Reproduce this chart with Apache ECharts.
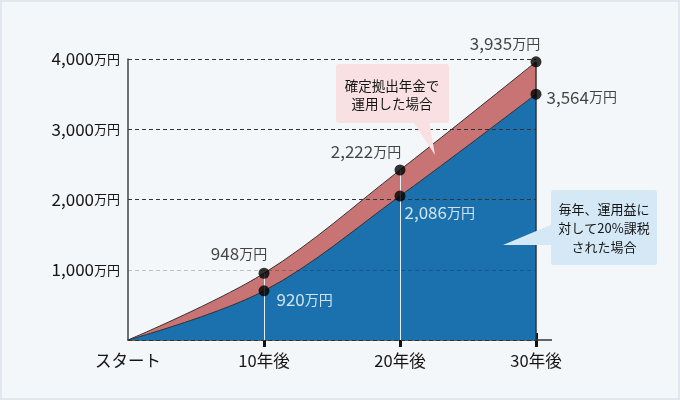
<!DOCTYPE html>
<html>
<head>
<meta charset="utf-8">
<script src="https://cdn.jsdelivr.net/npm/echarts@6/dist/echarts.min.js"></script>
<style>
  html, body { margin: 0; padding: 0; background: #f4f7fa; }
  #frame { width: 680px; height: 400px; box-sizing: border-box; border: 2px solid #e1e7ee; background: #f4f7fa; }
  #chart { width: 676px; height: 396px; }
</style>
</head>
<body>
<div id="frame"><div id="chart"></div></div>
<script>
// 確定拠出年金 vs 課税口座 — 30年の積立イメージ
var years = [0, 10, 20, 30];
var xLabels = ['スタート', '10年後', '20年後', '30年後'];
var yTicks = [0, 1000, 2000, 3000, 4000];
// heights as drawn in the picture (the original is a schematic, not to scale)
var dcHeights = [0, 950, 2420, 3960];
var taxedHeights = [0, 700, 2050, 3500];
// amounts printed next to the points (万円)
var dcLabels = ['', '948', '2,222', '3,935'];
var taxedLabels = ['', '920', '2,086', '3,564'];

(function() {
  var font = '"Noto Sans CJK JP", "Noto Sans", sans-serif';
  var ink = '#151515';
  var red = '#c97474';
  var blue = '#1b71ad';

  function pairs(vals) {
    return years.map(function(x, i) { return [x, vals[i]]; });
  }
  function pointData(vals) {
    return years.slice(1).map(function(x, i) { return [x, vals[i + 1]]; });
  }
  var richText = {
    n: { fontSize: 17, fontFamily: font },
    u: { fontSize: 14, fontFamily: font }
  };
  // label placement for the 10/20/30 points
  var dcPlace = [
    { position: 'top', offset: [-25, -1] },
    { position: 'top', offset: [-34, 1] },
    { position: 'top', offset: [-31, 1] }
  ];
  var taxedPlace = [
    { position: 'right', offset: [2, 9], color: '#fff' },
    { position: 'right', offset: [-6, 17], color: '#fff' },
    { position: 'right', offset: [0, 3], color: ink }
  ];
  function labelled(data, labels, place) {
    return data.map(function(d, i) {
      var p = place[i];
      return {
        value: d,
        label: {
          show: true, position: p.position, offset: p.offset,
          color: p.color || ink,
          formatter: '{n|' + labels[i + 1] + '}{u|万円}',
          rich: richText
        }
      };
    });
  }

  var ticks = years.slice(1);
  var chart = echarts.init(document.getElementById('chart'), null, { renderer: 'canvas' });
  chart.setOption({
    animation: false,
    backgroundColor: 'transparent',
    textStyle: { fontFamily: font },
    grid: { left: 126, right: 142, top: 57, bottom: 58 },
    xAxis: [{
      type: 'value', min: 0, max: 30, interval: 10,
      axisLine: { show: true, lineStyle: { color: '#333', width: 1.5 } },
      axisTick: { show: true, customValues: ticks, length: 7, lineStyle: { color: '#111', width: 3 } },
      axisLabel: {
        margin: 12, fontSize: 16.5, color: ink, fontFamily: font,
        formatter: function(v) { return xLabels[years.indexOf(v)] || ''; }
      },
      splitLine: { show: false }
    }, {
      type: 'value', min: 0, max: 30, interval: 10, position: 'bottom',
      axisLine: { show: false },
      axisTick: { show: true, inside: true, customValues: ticks, length: 7, lineStyle: { color: '#111', width: 3 } },
      axisLabel: { show: false },
      splitLine: { show: false }
    }],
    yAxis: {
      type: 'value', min: yTicks[0], max: yTicks[yTicks.length - 1], interval: 1000, z: 4,
      axisLine: { show: true, lineStyle: { color: '#444', width: 1.5 } },
      axisTick: { show: false },
      axisLabel: {
        margin: 8, color: ink,
        formatter: function(v) {
          return v === 0 ? '' : '{n|' + v.toLocaleString('en-US') + '}{u|万円}';
        },
        rich: { n: { fontSize: 17, fontFamily: font }, u: { fontSize: 13, fontFamily: font } }
      },
      splitLine: {
        show: true,
        lineStyle: { type: [4, 3], width: 1, color: ['#333', 'rgba(0,0,0,0.22)', '#333', '#333', '#333'] }
      }
    },
    series: [
      {
        name: '確定拠出年金で運用した場合',
        type: 'line', z: 2, smooth: 0.35, symbol: 'none',
        data: pairs(dcHeights),
        lineStyle: { color: '#333', width: 1 },
        areaStyle: { color: red, opacity: 1 }
      },
      {
        name: '毎年、運用益に対して20%課税された場合',
        type: 'line', z: 3, smooth: 0.35, symbol: 'none',
        data: pairs(taxedHeights),
        lineStyle: { color: '#333', width: 1 },
        areaStyle: { color: blue, opacity: 1 },
        markLine: {
          silent: true, symbol: ['none', 'none'], label: { show: false },
          data: ticks.map(function(x, i) {
            var last = i === ticks.length - 1;
            return [
              { coord: [x, 0], lineStyle: { color: last ? '#333' : '#e6eef5', width: last ? 1.5 : 1, type: 'solid' } },
              { coord: [x, dcHeights[i + 1]] }
            ];
          })
        }
      },
      {
        type: 'scatter', z: 6, symbolSize: 11,
        itemStyle: { color: '#000' },
        data: labelled(pointData(dcHeights), dcLabels, dcPlace)
      },
      {
        type: 'scatter', z: 6, symbolSize: 11,
        itemStyle: { color: '#000' },
        data: labelled(pointData(taxedHeights), taxedLabels, taxedPlace)
      }
    ],
    graphic: [
      // 確定拠出年金 callout
      { type: 'polygon', z: 10, shape: { points: [[410, 118], [427, 118], [433, 153]] }, style: { fill: '#f9e1e3' } },
      { type: 'rect', z: 10, shape: { x: 334, y: 62, width: 113, height: 59, r: 3 }, style: { fill: '#f9e1e3' } },
      { type: 'text', z: 11, x: 390, y: 93, style: { text: '確定拠出年金で\n運用した場合', font: '13.5px ' + font, fill: ink, align: 'center', verticalAlign: 'middle', lineHeight: 18 } },
      // 課税 callout
      { type: 'polygon', z: 10, shape: { points: [[551, 222], [551, 243], [501, 243]] }, style: { fill: '#d4e8f6' } },
      { type: 'rect', z: 10, shape: { x: 549, y: 188, width: 106, height: 75, r: 3 }, style: { fill: '#d4e8f6' } },
      { type: 'text', z: 11, x: 602, y: 226, style: { text: '毎年、運用益に\n対して20%課税\nされた場合', font: '13px ' + font, fill: ink, align: 'center', verticalAlign: 'middle', lineHeight: 19 } }
    ]
  });

  // x axis line runs a little past the last year
  var end = chart.convertToPixel({ xAxisIndex: 0, yAxisIndex: 0 }, [30, 0]);
  chart.setOption({
    graphic: [{
      id: 'axisExt', type: 'line', z: 5,
      shape: { x1: end[0], y1: end[1], x2: end[0] + 16, y2: end[1] },
      style: { stroke: '#333', lineWidth: 1.5 }
    }]
  });
  window.addEventListener('resize', function() { chart.resize(); });
})();
</script>
</body>
</html>
